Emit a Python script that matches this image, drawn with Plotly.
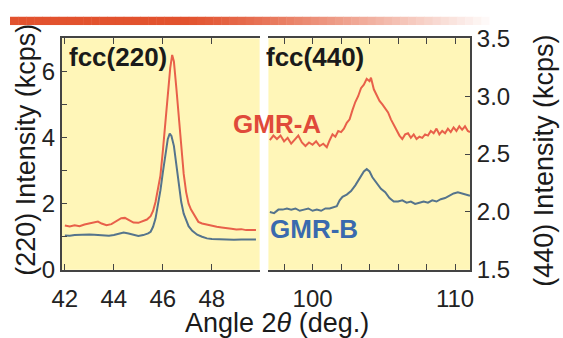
import plotly.graph_objects as go

W, H = 563, 338

# ---------------- data ----------------
x220_a = [42.0, 42.2, 42.4, 42.6, 42.8, 43.0, 43.2, 43.35, 43.5, 43.7, 43.9, 44.1, 44.3, 44.45, 44.6, 44.8,
          45.0, 45.2, 45.35, 45.5, 45.6, 45.7, 45.8, 45.9, 46.0, 46.1, 46.2, 46.3, 46.38, 46.45, 46.55,
          46.65, 46.75, 46.85, 46.95, 47.05, 47.15, 47.3, 47.45, 47.6, 47.8, 48.0, 48.2, 48.4, 48.6,
          48.8, 49.0, 49.2, 49.4, 49.6, 49.8]
y220_a = [1.34, 1.31, 1.35, 1.32, 1.37, 1.40, 1.45, 1.46, 1.40, 1.35, 1.38, 1.48, 1.56, 1.57, 1.50, 1.43,
          1.42, 1.47, 1.52, 1.62, 1.78, 2.05, 2.45, 2.85, 3.6, 4.5, 5.3, 6.1, 6.5, 6.3, 5.5,
          4.6, 3.7, 2.9, 2.35, 2.0, 1.82, 1.62, 1.45, 1.40, 1.36, 1.33, 1.30, 1.28, 1.27,
          1.24, 1.22, 1.23, 1.20, 1.21, 1.20]

x220_b = [42.0, 42.2, 42.4, 42.6, 42.8, 43.0, 43.2, 43.4, 43.6, 43.8, 44.0, 44.2, 44.4, 44.6, 44.8, 45.0,
          45.2, 45.4, 45.5, 45.6, 45.7, 45.8, 45.9, 46.0, 46.1, 46.2, 46.28, 46.35, 46.45, 46.55, 46.65,
          46.75, 46.85, 46.95, 47.05, 47.2, 47.4, 47.6, 47.8, 48.0, 48.3, 48.6, 48.9, 49.2, 49.5, 49.8]
y220_b = [1.04, 1.03, 1.05, 1.06, 1.05, 1.07, 1.06, 1.05, 1.04, 1.03, 1.05, 1.10, 1.13, 1.10, 1.05, 1.02,
          1.05, 1.10, 1.15, 1.30, 1.55, 1.95, 2.4, 2.95, 3.5, 3.95, 4.12, 4.05, 3.75, 3.2, 2.55,
          2.05, 1.7, 1.48, 1.32, 1.18, 1.06, 1.00, 0.95, 0.93, 0.92, 0.92, 0.91, 0.92, 0.91, 0.92]

x440_a = [97.0, 97.25, 97.5, 97.75, 98.0, 98.25, 98.5, 98.75, 99.0, 99.25, 99.5, 99.75, 100.0, 100.25,
          100.5, 100.75, 101.0, 101.2, 101.4, 101.6, 101.8, 102.0, 102.2, 102.4, 102.6, 102.8, 103.0,
          103.2, 103.4, 103.6, 103.8, 104.0, 104.1, 104.3, 104.5, 104.7, 104.9, 105.1, 105.3, 105.5,
          105.7, 105.9, 106.1, 106.3, 106.5, 106.7, 106.9, 107.1, 107.3, 107.5, 107.7, 107.9, 108.1,
          108.3, 108.5, 108.7, 108.9, 109.1, 109.3, 109.5, 109.7, 109.9, 110.1, 110.3, 110.5, 110.7,
          110.9, 111.05]
y440_a = [2.62, 2.66, 2.63, 2.66, 2.61, 2.64, 2.59, 2.63, 2.66, 2.60, 2.57, 2.60, 2.58, 2.61,
          2.57, 2.59, 2.56, 2.62, 2.67, 2.65, 2.70, 2.69, 2.72, 2.77, 2.80, 2.88, 2.95,
          3.00, 3.07, 3.10, 3.15, 3.13, 3.16, 3.06, 3.01, 2.96, 2.93, 2.90, 2.86, 2.80,
          2.75, 2.70, 2.66, 2.63, 2.67, 2.68, 2.64, 2.67, 2.63, 2.65, 2.64, 2.67, 2.66,
          2.70, 2.68, 2.72, 2.67, 2.70, 2.68, 2.72, 2.69, 2.73, 2.70, 2.74, 2.71, 2.74,
          2.70, 2.69]

x440_b = [97.0, 97.3, 97.6, 97.9, 98.2, 98.5, 98.8, 99.1, 99.4, 99.7, 100.0, 100.3, 100.6, 100.9, 101.2,
          101.5, 101.7, 101.9, 102.1, 102.4, 102.7, 103.0, 103.3, 103.6, 103.8, 104.0, 104.2, 104.5,
          104.8, 105.1, 105.4, 105.7, 106.0, 106.3, 106.6, 106.9, 107.2, 107.5, 107.8, 108.1, 108.4,
          108.7, 109.0, 109.3, 109.6, 109.9, 110.2, 110.5, 110.8, 111.05]
y440_b = [2.00, 1.99, 2.02, 2.02, 2.03, 2.02, 2.03, 2.01, 2.02, 2.03, 2.01, 2.02, 2.01, 2.03, 2.03,
          2.04, 2.05, 2.10, 2.13, 2.15, 2.18, 2.23, 2.29, 2.35, 2.37, 2.35, 2.30, 2.25,
          2.20, 2.17, 2.12, 2.09, 2.09, 2.10, 2.08, 2.09, 2.07, 2.08, 2.09, 2.08, 2.10,
          2.09, 2.11, 2.12, 2.14, 2.16, 2.17, 2.16, 2.15, 2.14]

left_xticks = [42, 44, 46, 48]
left_yticks = [0, 2, 4, 6]
right_xticks = [100, 110]
right_yticks = [1.5, 2.0, 2.5, 3.0, 3.5]
right_yticktext = ["1.5", "2.0", "2.5", "3.0", "3.5"]

# ---------------- styling ----------------
RED = "#E8604A"
BLUE = "#55748C"
FONT = "Liberation Sans, Arial, sans-serif"
AX = "#444444"


def px(x):
    return x / W


def py(y):
    return 1 - y / H


fig = go.Figure()
fig.add_trace(go.Scatter(x=x220_a, y=y220_a, mode="lines", line=dict(color=RED, width=2), xaxis="x", yaxis="y"))
fig.add_trace(go.Scatter(x=x220_b, y=y220_b, mode="lines", line=dict(color=BLUE, width=2), xaxis="x", yaxis="y"))
fig.add_trace(go.Scatter(x=x440_a, y=y440_a, mode="lines", line=dict(color=RED, width=2), xaxis="x2", yaxis="y2"))
fig.add_trace(go.Scatter(x=x440_b, y=y440_b, mode="lines", line=dict(color=BLUE, width=2), xaxis="x2", yaxis="y2"))

common = dict(showgrid=False, zeroline=False, showline=True, linecolor=AX, linewidth=1.5,
              ticks="inside", ticklen=6, tickcolor=AX, tickwidth=1.2,
              tickfont=dict(family=FONT, size=24, color="#222222"))

ydom = [py(278), py(26.5)]

fig.update_layout(
    width=W, height=H, margin=dict(l=0, r=0, t=0, b=0),
    paper_bgcolor="white", plot_bgcolor="#FFF6B8", showlegend=False,
    xaxis=dict(domain=[px(53), px(256)], range=[41.87, 49.95], tickvals=left_xticks,
               mirror="ticks", anchor="y", ticklabelstandoff=7, **common),
    yaxis=dict(domain=ydom, range=[0, 7], tickvals=left_yticks, anchor="x", mirror=False,
               minor=dict(tickvals=[1, 3, 5], ticks="inside", ticklen=6, tickcolor=AX), **common),
    xaxis2=dict(domain=[px(265), px(472)], range=[96.9, 111.07], tickvals=right_xticks,
                minor=dict(tickvals=[98, 102, 104, 106, 108], ticks="inside", ticklen=6, tickcolor=AX),
                mirror="ticks", anchor="y2", ticklabelstandoff=7, **common),
    yaxis2=dict(domain=ydom, range=[1.5, 3.5], tickvals=right_yticks, ticktext=right_yticktext,
                side="right", anchor="x2", mirror=False, **common),
)

# gradient bar at the top
n = 60
for i in range(n):
    x0 = i * 500 / n
    x1 = (i + 1) * 500 / n + 0.5
    t = i / (n - 1)
    f = min(1.0, max(0.0, (t - 0.35) / 0.65)) ** 1.2
    r = int(226 + (255 - 226) * f)
    g = int(82 + (255 - 82) * f)
    b = int(46 + (255 - 46) * f)
    fig.add_shape(type="rect", xref="paper", yref="paper", x0=px(x0), x1=px(x1), y0=py(12), y1=py(3),
                  fillcolor=f"rgb({r},{g},{b})", line=dict(width=0), layer="above")

title_font = dict(family=FONT, size=27, color="#1a1a1a")
anns = [
    dict(text="(220) Intensity (kcps)", x=px(17), y=py(148), textangle=-90, font=title_font),
    dict(text="(440) Intensity (kcps)", x=px(548), y=py(159), textangle=-90, font=title_font),
    dict(text="Angle 2<i>θ</i> (deg.)", x=px(274), y=py(336), font=title_font),
    dict(text="<b>fcc(220)</b>", x=px(111), y=py(47), font=dict(family=FONT, size=26, color="#1a1a1a")),
    dict(text="<b>fcc(440)</b>", x=px(313), y=py(47), font=dict(family=FONT, size=26, color="#1a1a1a")),
    dict(text="<b>GMR-A</b>", x=px(274), y=py(120), font=dict(family=FONT, size=26, color="#E04A3A")),
    dict(text="<b>GMR-B</b>", x=px(312), y=py(234), font=dict(family=FONT, size=26, color="#3A6AAE")),
]
for a in anns:
    fig.add_annotation(xref="paper", yref="paper", showarrow=False, xanchor="center", yanchor="middle", **a)

fig.write_html("out.html")
